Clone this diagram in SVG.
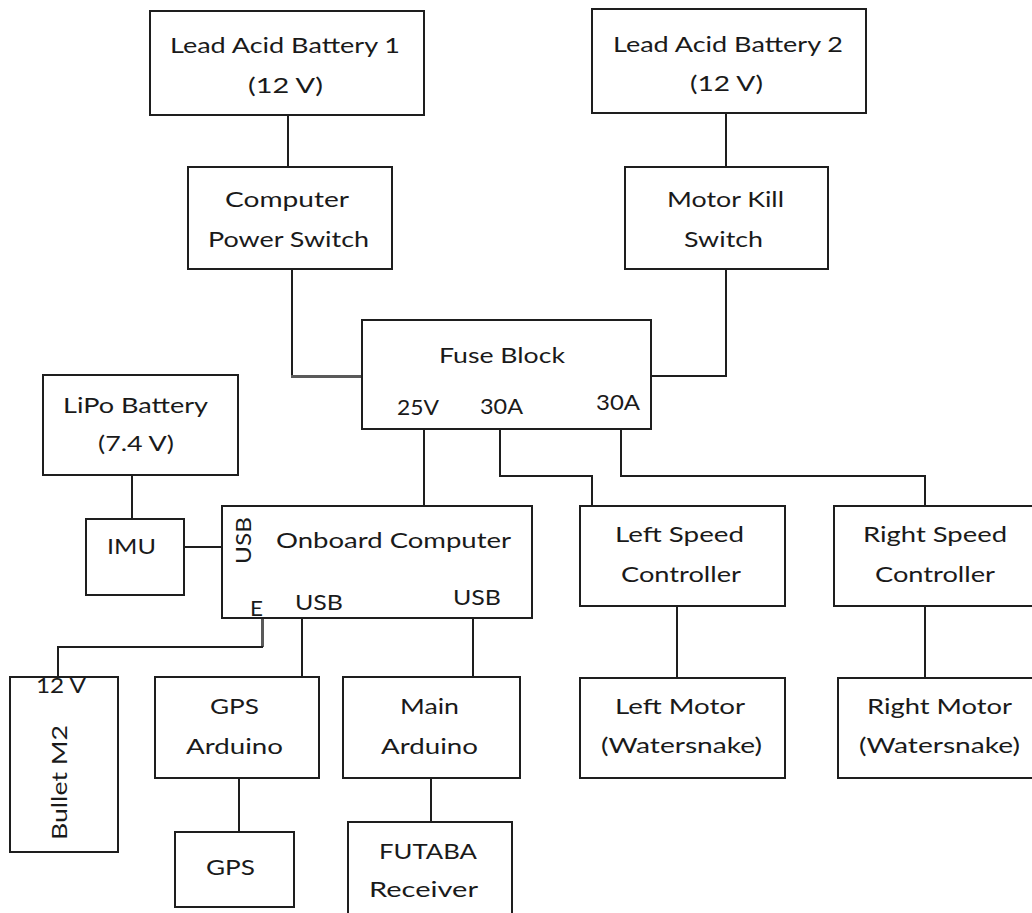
<svg xmlns="http://www.w3.org/2000/svg" width="1032" height="913" viewBox="0 0 1032 913">
<style>
.box{fill:#fff;stroke:#1e1e1e;stroke-width:2}
.ln{fill:none;stroke:#1e1e1e;stroke-width:2}
.gl{fill:none;stroke:#5a5a5a;stroke-width:3}
text{font-family:Lato,"Open Sans","Liberation Sans",sans-serif;font-size:22px;fill:#1a1a1a}
</style>
<rect width="1032" height="913" fill="#fff"/>
<g id="connectors">
<path class="ln" d="M288,115V167"/>
<path class="ln" d="M726,113V167"/>
<path class="ln" d="M292,269V376"/>
<path class="gl" d="M291,376.5H362"/>
<path class="ln" d="M726,269V376H651"/>
<path class="ln" d="M424,429V506"/>
<path class="ln" d="M500,429V476H592V506"/>
<path class="ln" d="M621,429V476H925V506"/>
<path class="ln" d="M132,475V519"/>
<path class="ln" d="M184,547H222"/>
<path class="gl" d="M262.5,618V647"/>
<path class="ln" d="M263,647H58V677"/>
<path class="ln" d="M302,618V677"/>
<path class="ln" d="M473,618V677"/>
<path class="ln" d="M239,778V832"/>
<path class="ln" d="M431,778V822"/>
<path class="ln" d="M677,606V678"/>
<path class="ln" d="M925,606V678"/>
</g>
<g id="battery1"><rect class="box" x="150" y="11" width="274" height="104"/>
<text x="170" y="53" textLength="230" lengthAdjust="spacingAndGlyphs">Lead Acid Battery 1</text>
<text x="248" y="93" textLength="75" lengthAdjust="spacingAndGlyphs">(12 V)</text></g>
<g id="battery2"><rect class="box" x="592" y="9" width="274" height="104"/>
<text x="613" y="52" textLength="230" lengthAdjust="spacingAndGlyphs">Lead Acid Battery 2</text>
<text x="690" y="91" textLength="73" lengthAdjust="spacingAndGlyphs">(12 V)</text></g>
<g id="cps"><rect class="box" x="188" y="167" width="204" height="102"/>
<text x="225" y="207" textLength="124" lengthAdjust="spacingAndGlyphs">Computer</text>
<text x="208" y="247" textLength="161" lengthAdjust="spacingAndGlyphs">Power Switch</text></g>
<g id="mks"><rect class="box" x="625" y="167" width="203" height="102"/>
<text x="667" y="207" textLength="117" lengthAdjust="spacingAndGlyphs">Motor Kill</text>
<text x="684" y="247" textLength="79" lengthAdjust="spacingAndGlyphs">Switch</text></g>
<g id="fuse"><rect class="box" x="362" y="320" width="289" height="109"/>
<text x="439" y="363" textLength="126" lengthAdjust="spacingAndGlyphs">Fuse Block</text>
<text x="397" y="415" textLength="42" lengthAdjust="spacingAndGlyphs">25V</text>
<text x="480" y="414" textLength="43" lengthAdjust="spacingAndGlyphs">30A</text>
<text x="596" y="410" textLength="44" lengthAdjust="spacingAndGlyphs">30A</text></g>
<g id="lipo"><rect class="box" x="43" y="375" width="195" height="100"/>
<text x="63" y="413" textLength="145" lengthAdjust="spacingAndGlyphs">LiPo Battery</text>
<text x="98" y="451" textLength="76" lengthAdjust="spacingAndGlyphs">(7.4 V)</text></g>
<g id="imu"><rect class="box" x="86" y="519" width="98" height="76"/>
<text x="107" y="554" textLength="49" lengthAdjust="spacingAndGlyphs">IMU</text></g>
<g id="onboard"><rect class="box" x="222" y="506" width="310" height="112"/>
<text x="276" y="548" textLength="235" lengthAdjust="spacingAndGlyphs">Onboard Computer</text>
<text transform="translate(251,564) rotate(-90)" textLength="47" lengthAdjust="spacingAndGlyphs">USB</text>
<text x="250" y="616" textLength="13" lengthAdjust="spacingAndGlyphs">E</text>
<text x="295" y="610" textLength="48" lengthAdjust="spacingAndGlyphs">USB</text>
<text x="453" y="605" textLength="48" lengthAdjust="spacingAndGlyphs">USB</text></g>
<g id="lsc"><rect class="box" x="580" y="506" width="205" height="100"/>
<text x="615" y="542" textLength="129" lengthAdjust="spacingAndGlyphs">Left Speed</text>
<text x="621" y="582" textLength="120" lengthAdjust="spacingAndGlyphs">Controller</text></g>
<g id="rsc"><rect class="box" x="834" y="506" width="206" height="100"/>
<text x="863" y="542" textLength="144" lengthAdjust="spacingAndGlyphs">Right Speed</text>
<text x="875" y="582" textLength="120" lengthAdjust="spacingAndGlyphs">Controller</text></g>
<g id="lm"><rect class="box" x="580" y="678" width="205" height="100"/>
<text x="615" y="714" textLength="130" lengthAdjust="spacingAndGlyphs">Left Motor</text>
<text x="601" y="753" textLength="161" lengthAdjust="spacingAndGlyphs">(Watersnake)</text></g>
<g id="rm"><rect class="box" x="838" y="678" width="202" height="100"/>
<text x="867" y="714" textLength="145" lengthAdjust="spacingAndGlyphs">Right Motor</text>
<text x="859" y="753" textLength="161" lengthAdjust="spacingAndGlyphs">(Watersnake)</text></g>
<g id="bullet"><rect class="box" x="10" y="677" width="108" height="175"/>
<text x="36" y="693" textLength="50" lengthAdjust="spacingAndGlyphs">12 V</text>
<text transform="translate(67,840) rotate(-90)" textLength="115" lengthAdjust="spacingAndGlyphs">Bullet M2</text></g>
<g id="gpsarduino"><rect class="box" x="155" y="677" width="164" height="101"/>
<text x="210" y="714" textLength="49" lengthAdjust="spacingAndGlyphs">GPS</text>
<text x="186" y="754" textLength="97" lengthAdjust="spacingAndGlyphs">Arduino</text></g>
<g id="gps"><rect class="box" x="175" y="832" width="119" height="75"/>
<text x="206" y="875" textLength="49" lengthAdjust="spacingAndGlyphs">GPS</text></g>
<g id="mainarduino"><rect class="box" x="343" y="677" width="177" height="101"/>
<text x="400" y="714" textLength="59" lengthAdjust="spacingAndGlyphs">Main</text>
<text x="381" y="754" textLength="97" lengthAdjust="spacingAndGlyphs">Arduino</text></g>
<g id="futaba"><rect class="box" x="348" y="822" width="164" height="100"/>
<text x="379" y="859" textLength="98" lengthAdjust="spacingAndGlyphs">FUTABA</text>
<text x="369" y="897" textLength="109" lengthAdjust="spacingAndGlyphs">Receiver</text></g>
</svg>
